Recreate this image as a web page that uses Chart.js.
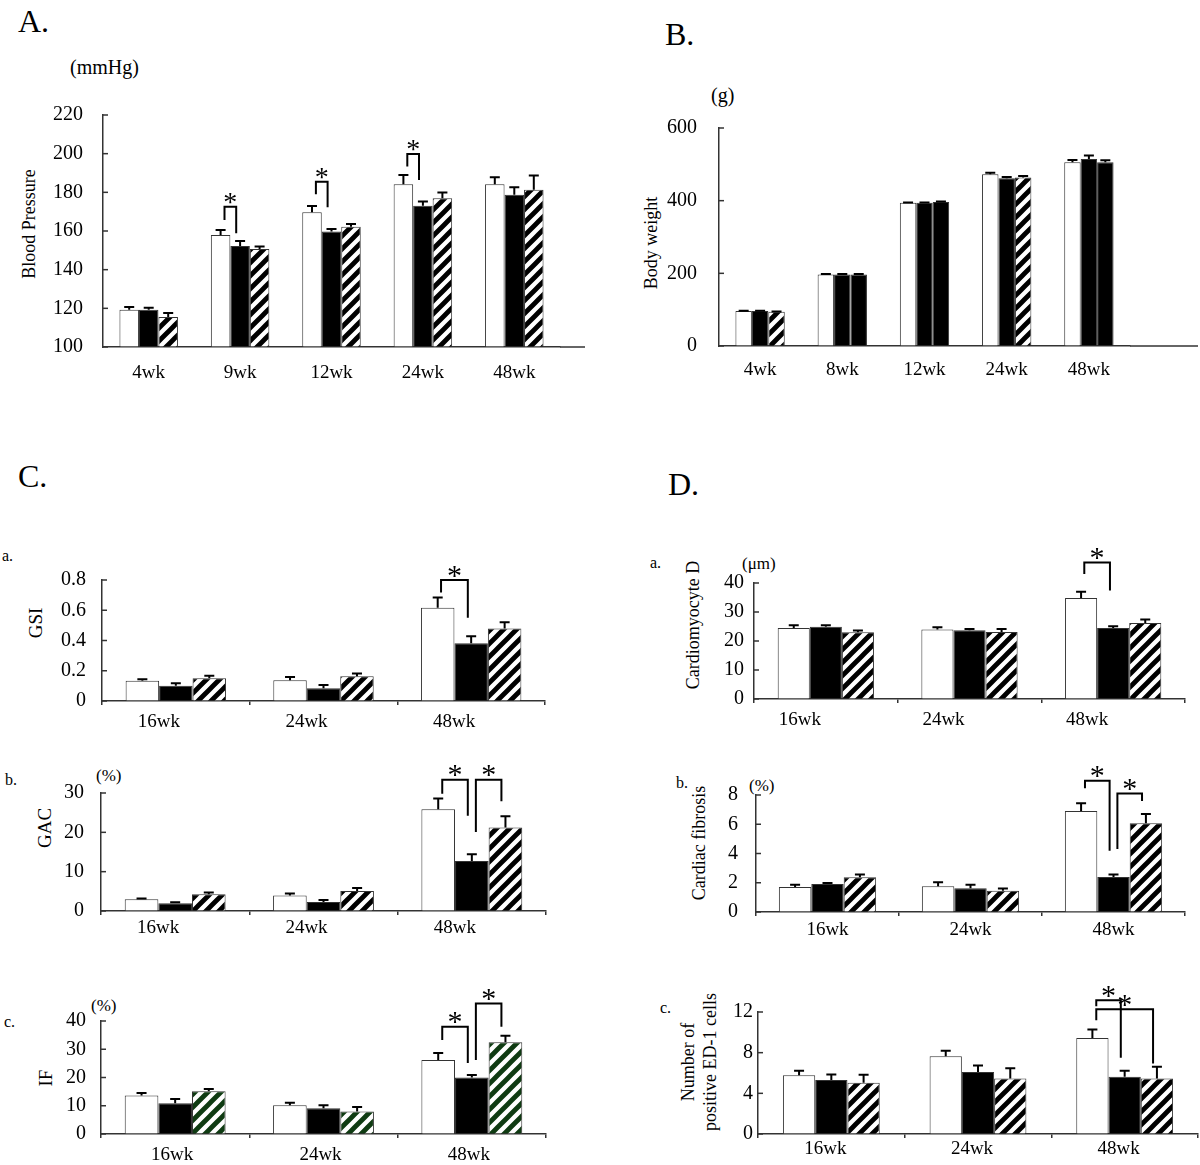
<!DOCTYPE html>
<html>
<head>
<meta charset="utf-8">
<script src="https://cdn.jsdelivr.net/npm/chart.js@4.4.1/dist/chart.umd.min.js"></script>
<style>
body { margin: 0; background: #fff; overflow: hidden; }
#page { position: relative; width: 1200px; height: 1165px; overflow: hidden; font-family: "Liberation Serif", "Times New Roman", serif; color: #000; }
canvas { position: absolute; }
.t { position: absolute; white-space: nowrap; line-height: 1; transform: translateY(-50%); }
.r { position: absolute; white-space: nowrap; line-height: 22px; text-align: center; font-size: 18px; transform: translate(-50%, -50%) rotate(-90deg); }
</style>
</head>
<body>
<div id="page">
  <div class="t" style="left:18px;top:21px;font-size:32px">A.</div>
  <div class="t" style="left:665px;top:34px;font-size:32px">B.</div>
  <div class="t" style="left:18px;top:476px;font-size:32px">C.</div>
  <div class="t" style="left:668px;top:484px;font-size:32px">D.</div>

  <div class="t" style="left:70px;top:67px;font-size:20px">(mmHg)</div>
  <div class="t" style="left:711px;top:95px;font-size:20px">(g)</div>
  <div class="t" style="left:2px;top:556px;font-size:16px">a.</div>
  <div class="t" style="left:5px;top:780px;font-size:16px">b.</div>
  <div class="t" style="left:4px;top:1022px;font-size:16px">c.</div>
  <div class="t" style="left:96px;top:775px;font-size:17px">(%)</div>
  <div class="t" style="left:91px;top:1005px;font-size:17px">(%)</div>
  <div class="t" style="left:650px;top:563px;font-size:16px">a.</div>
  <div class="t" style="left:742px;top:563px;font-size:17px">(μm)</div>
  <div class="t" style="left:676px;top:783px;font-size:16px">b.</div>
  <div class="t" style="left:749px;top:785px;font-size:17px">(%)</div>
  <div class="t" style="left:660px;top:1008px;font-size:16px">c.</div>

  <div class="r" style="left:29px;top:224px">Blood Pressure</div>
  <div class="r" style="left:651px;top:243px">Body weight</div>
  <div class="r" style="left:36px;top:623px;font-size:19px">GSI</div>
  <div class="r" style="left:45px;top:828px;font-size:19px">GAC</div>
  <div class="r" style="left:46px;top:1078px;font-size:19px">IF</div>
  <div class="r" style="left:693px;top:625px">Cardiomyocyte D</div>
  <div class="r" style="left:699px;top:843px">Cardiac fibrosis</div>
  <div class="r" style="left:699px;top:1062px">Number of<br>positive ED-1 cells</div>
</div>
<script>
const FONT = '"Liberation Serif", "Times New Roman", serif';
Chart.defaults.font.family = FONT;
Chart.defaults.color = '#000';

const seriesNames = ['Open', 'Closed', 'Hatched'];

// A. blood pressure (mmHg)
const weeksA = ['4wk', '9wk', '12wk', '24wk', '48wk'];
const bpOpen = [119.3, 157.9, 169.7, 184.2, 184.2];
const bpClosed = [119.3, 152.2, 159.7, 173.1, 178.7];
const bpHatched = [115.5, 150.7, 162.2, 177.0, 181.3];
const bpOpenSE = [1.4, 2.6, 3.2, 4.8, 3.6];
const bpClosedSE = [1.0, 2.6, 1.3, 2.1, 3.9];
const bpHatchedSE = [2.1, 1.3, 1.4, 2.9, 7.4];
const bpSig = [[1, 0, 1, 172.6, 165.7, 158.8], [2, 0, 1, 185.5, 179.0, 172.3], [3, 0, 1, 199.8, 193.3, 186.4]];

// B. body weight (g)
const weeksB = ['4wk', '8wk', '12wk', '24wk', '48wk'];
const bwOpen = [96, 197, 394, 473, 506];
const bwClosed = [96, 197, 394, 462, 515];
const bwHatched = [94, 197, 396, 464, 506];
const bwOpenSE = [1, 1, 1, 4, 6];
const bwClosedSE = [1, 1, 1, 3, 9];
const bwHatchedSE = [1, 1, 2, 4, 5];

const weeksCD = ['16wk', '24wk', '48wk'];

// C-a. GSI
const gsiOpen = [0.134, 0.137, 0.617];
const gsiClosed = [0.101, 0.084, 0.381];
const gsiHatched = [0.150, 0.163, 0.480];
const gsiOpenSE = [0.009, 0.022, 0.068];
const gsiClosedSE = [0.016, 0.022, 0.047];
const gsiHatchedSE = [0.017, 0.018, 0.040];
const gsiSig = [[2, 0, 1, 0.8, 0.718, 0.551]];

// C-b. GAC (%)
const gacOpen = [2.96, 3.97, 25.9];
const gacClosed = [1.94, 2.28, 12.7];
const gacHatched = [4.23, 5.07, 21.2];
const gacOpenSE = [0.24, 0.51, 2.7];
const gacClosedSE = [0.26, 0.51, 1.7];
const gacHatchedSE = [0.5, 0.76, 2.9];
const gacSig = [[2, 0, 1, 33.4, 29.8, 24.2], [2, 1, 2, 33.4, 20.1, 27.9]];

// C-c. IF (%)
const ifOpen = [13.6, 10.2, 26.2];
const ifClosed = [10.9, 9.1, 20.0];
const ifHatched = [15.1, 8.0, 32.5];
const ifOpenSE = [0.9, 0.9, 2.5];
const ifClosedSE = [1.5, 1.1, 0.9];
const ifHatchedSE = [0.8, 1.6, 2.3];
const ifSig = [[2, 0, 1, 38.0, 33.3, 25.1], [2, 1, 2, 46.2, 26.2, 38.0]];

// D-a. cardiomyocyte diameter (μm)
const cdOpen = [24.5, 24.0, 34.8];
const cdClosed = [24.9, 23.7, 24.5];
const cdHatched = [23.0, 23.1, 26.2];
const cdOpenSE = [0.9, 0.7, 2.2];
const cdClosedSE = [0.5, 0.4, 0.6];
const cdHatchedSE = [0.6, 1.0, 1.2];
const cdSig = [[2, 0, 1, 47.1, 43.1, 37.4]];

// D-b. cardiac fibrosis (%)
const cfOpen = [1.71, 1.76, 6.9];
const cfClosed = [1.92, 1.62, 2.4];
const cfHatched = [2.38, 1.46, 6.06];
const cfOpenSE = [0.16, 0.27, 0.53];
const cfClosedSE = [0.07, 0.25, 0.16];
const cfHatchedSE = [0.18, 0.14, 0.64];
const cfSig = [[2, 0, 1, 8.98, 8.46, 4.18], [2, 1, 2, 8.11, 4.3, 7.59]];

// D-c. ED-1 positive cells
const edOpen = [5.79, 7.65, 9.45];
const edClosed = [5.30, 6.11, 5.62];
const edHatched = [5.04, 5.46, 5.46];
const edOpenSE = [0.42, 0.53, 0.82];
const edClosedSE = [0.55, 0.63, 0.59];
const edHatchedSE = [0.78, 1.01, 1.15];
const edSig = [[2, 0, 1, 13.15, 12.56, 7.49], [2, 0, 2, 12.26, 11.18, 6.93]];


function hatch(color) {
    const c = document.createElement('canvas');
    c.width = c.height = 13;
    const g = c.getContext('2d');
    g.fillStyle = '#fff';
    g.fillRect(0, 0, 13, 13);
    g.strokeStyle = color;
    g.lineWidth = 4.8;
    g.beginPath();
    g.moveTo(-4, 17); g.lineTo(17, -4);
    g.moveTo(-4, 4); g.lineTo(4, -4);
    g.moveTo(9, 17); g.lineTo(17, 9);
    g.stroke();
    return g.createPattern(c, 'repeat');
}
const stripes = hatch('#000');
const greenStripes = hatch('#0f3b12');

const errorBars = {
    id: 'errorBars',
    afterDatasetsDraw(chart) {
        const {ctx, scales: {y}} = chart;
        ctx.save();
        ctx.strokeStyle = '#000';
        ctx.lineWidth = 2;
        chart.data.datasets.forEach((ds, i) => {
            chart.getDatasetMeta(i).data.forEach((bar, j) => {
                const top = y.getPixelForValue(ds.data[j] + ds.se[j]);
                const half = Math.min(5, bar.width / 3);
                ctx.beginPath();
                ctx.moveTo(bar.x, bar.y);
                ctx.lineTo(bar.x, top);
                ctx.moveTo(bar.x - half, top);
                ctx.lineTo(bar.x + half, top);
                ctx.stroke();
            });
        });
        ctx.restore();
    }
};

const brackets = {
    id: 'brackets',
    afterDatasetsDraw(chart, args, opts) {
        const {ctx, scales: {y}} = chart;
        ctx.save();
        ctx.strokeStyle = '#000';
        ctx.fillStyle = '#000';
        ctx.lineWidth = 2;
        ctx.font = opts.size + 'px ' + FONT;
        ctx.textAlign = 'center';
        ctx.textBaseline = 'alphabetic';
        opts.items.forEach(b => {
            const p = chart.getDatasetMeta(b[1]).data[b[0]];
            const q = chart.getDatasetMeta(b[2]).data[b[0]];
            const x1 = p.x + p.width * opts.inset;
            const x2 = q.x - q.width * opts.inset;
            const top = y.getPixelForValue(b[3]);
            ctx.beginPath();
            ctx.moveTo(x1, y.getPixelForValue(b[4]));
            ctx.lineTo(x1, top);
            ctx.lineTo(x2, top);
            ctx.lineTo(x2, y.getPixelForValue(b[5]));
            ctx.stroke();
            ctx.fillText('*', (x1 + x2) / 2, top + opts.size * 0.15);
        });
        ctx.restore();
    }
};

const innerTicks = {
    id: 'innerTicks',
    afterDraw(chart) {
        const {ctx, chartArea, scales: {y}} = chart;
        ctx.save();
        ctx.strokeStyle = '#333';
        ctx.lineWidth = 1.5;
        y.ticks.forEach((t, i) => {
            const py = y.getPixelForTick(i);
            ctx.beginPath();
            ctx.moveTo(chartArea.left, py);
            ctx.lineTo(chartArea.left + 5, py);
            ctx.stroke();
        });
        ctx.restore();
    }
};

const axisTail = {
    id: 'axisTail',
    afterDraw(chart, args, opts) {
        if (!opts.length) return;
        const {ctx, chartArea} = chart;
        ctx.save();
        ctx.strokeStyle = '#333';
        ctx.lineWidth = 1.5;
        ctx.beginPath();
        ctx.moveTo(chartArea.right, chartArea.bottom);
        ctx.lineTo(chartArea.right + opts.length, chartArea.bottom);
        ctx.stroke();
        ctx.restore();
    }
};

function series(means, errs) {
    return means.map((m, i) => ({name: seriesNames[i], mean: m, se: errs[i]}));
}

function panel(box, labels, data, o) {
    const yw = 60, xh = 40;
    const cv = document.createElement('canvas');
    const left = box.left - yw, top = box.top - box.padTop;
    cv.width = box.right + (box.padRight || 5) - left;
    cv.height = box.bottom + xh - top;
    cv.style.left = left + 'px';
    cv.style.top = top + 'px';
    document.getElementById('page').appendChild(cv);
    const fills = o.fills || ['#fff', '#000', stripes];
    const yTicks = {stepSize: o.step, font: {size: 20}, padding: o.yPad};
    if (o.every) yTicks.callback = v => (v % o.every === 0 ? v : '');
    return new Chart(cv, {
        type: 'bar',
        data: {
            labels: labels,
            datasets: data.map((s, i) => ({
                label: s.name,
                data: s.mean,
                se: s.se,
                backgroundColor: fills[i],
                borderColor: '#333',
                borderWidth: 1,
                base: o.min,
                categoryPercentage: o.cat,
                barPercentage: 1,
            }))
        },
        options: {
            responsive: false,
            animation: false,
            devicePixelRatio: 1,
            layout: {padding: {top: box.padTop, right: box.padRight || 5, left: 0, bottom: 0}},
            plugins: {
                legend: {display: false},
                tooltip: {enabled: false},
                brackets: {items: o.sig || [], inset: o.inset || 0, size: o.star || 30},
                axisTail: {length: o.tail || 0},
            },
            scales: {
                x: {
                    grid: {display: true, drawOnChartArea: false, drawTicks: !!o.xTicks, tickLength: 4, color: '#333', lineWidth: 1.5},
                    border: {display: true, color: '#333', width: 1.5},
                    ticks: {font: {size: 19}, padding: o.xPad, labelOffset: o.labelOffset || 0, maxRotation: 0, autoSkip: false},
                    afterFit: s => { s.height = xh; }
                },
                y: {
                    min: o.min,
                    max: o.max,
                    grid: {display: true, drawOnChartArea: false, drawTicks: false},
                    border: {display: true, color: '#333', width: 1.5},
                    ticks: yTicks,
                    afterFit: s => { s.width = yw; }
                }
            }
        },
        plugins: [errorBars, brackets, innerTicks, axisTail]
    });
}

panel({left: 103, right: 560, top: 115, bottom: 347, padTop: 35, padRight: 30}, weeksA,
    series([bpOpen, bpClosed, bpHatched], [bpOpenSE, bpClosedSE, bpHatchedSE]),
    {min: 100, max: 220, step: 20, yPad: 20, xPad: 15, cat: 0.64, sig: bpSig, inset: 0.2, star: 28, tail: 25});

panel({left: 719, right: 1130, top: 128, bottom: 346, padTop: 35, padRight: 70}, weeksB,
    series([bwOpen, bwClosed, bwHatched], [bwOpenSE, bwClosedSE, bwHatchedSE]),
    {min: 0, max: 600, step: 200, yPad: 22, xPad: 13, cat: 0.6, tail: 68,
     fills: ['#fff', '#000', [stripes, '#000', '#000', stripes, '#000']]});

panel({left: 102, right: 545, top: 580, bottom: 701, padTop: 35}, weeksCD,
    series([gsiOpen, gsiClosed, gsiHatched], [gsiOpenSE, gsiClosedSE, gsiHatchedSE]),
    {min: 0, max: 0.8, step: 0.2, yPad: 16, xPad: 6, xTicks: true, cat: 0.68, labelOffset: -17, sig: gsiSig, inset: 0.1});

panel({left: 101, right: 546, top: 793, bottom: 911, padTop: 42}, weeksCD,
    series([gacOpen, gacClosed, gacHatched], [gacOpenSE, gacClosedSE, gacHatchedSE]),
    {min: 0, max: 30, step: 10, yPad: 17, xPad: 2, xTicks: true, cat: 0.68, labelOffset: -17, sig: gacSig, inset: 0.12});

panel({left: 101, right: 546, top: 1021, bottom: 1134, padTop: 48}, weeksCD,
    series([ifOpen, ifClosed, ifHatched], [ifOpenSE, ifClosedSE, ifHatchedSE]),
    {min: 0, max: 40, step: 10, yPad: 15, xPad: 6, xTicks: true, cat: 0.68, labelOffset: -3, sig: ifSig, inset: 0.12,
     fills: ['#fff', '#000', greenStripes]});

panel({left: 754, right: 1185, top: 583, bottom: 699, padTop: 45}, weeksCD,
    series([cdOpen, cdClosed, cdHatched], [cdOpenSE, cdClosedSE, cdHatchedSE]),
    {min: 0, max: 40, step: 10, yPad: 10, xPad: 6, xTicks: true, cat: 0.67, labelOffset: -26, sig: cdSig, inset: 0.1});

panel({left: 756, right: 1185, top: 795, bottom: 912, padTop: 40}, weeksCD,
    series([cfOpen, cfClosed, cfHatched], [cfOpenSE, cfClosedSE, cfHatchedSE]),
    {min: 0, max: 8, step: 2, yPad: 18, xPad: 3, xTicks: true, cat: 0.68, sig: cfSig, inset: 0.12});

panel({left: 758, right: 1198, top: 1012, bottom: 1134, padTop: 42, padRight: 2}, weeksCD,
    series([edOpen, edClosed, edHatched], [edOpenSE, edClosedSE, edHatchedSE]),
    {min: 0, max: 12, step: 2, every: 4, yPad: 5, xPad: 0, xTicks: true, cat: 0.66, labelOffset: -6, sig: edSig, inset: 0.12});
</script>
</body>
</html>
